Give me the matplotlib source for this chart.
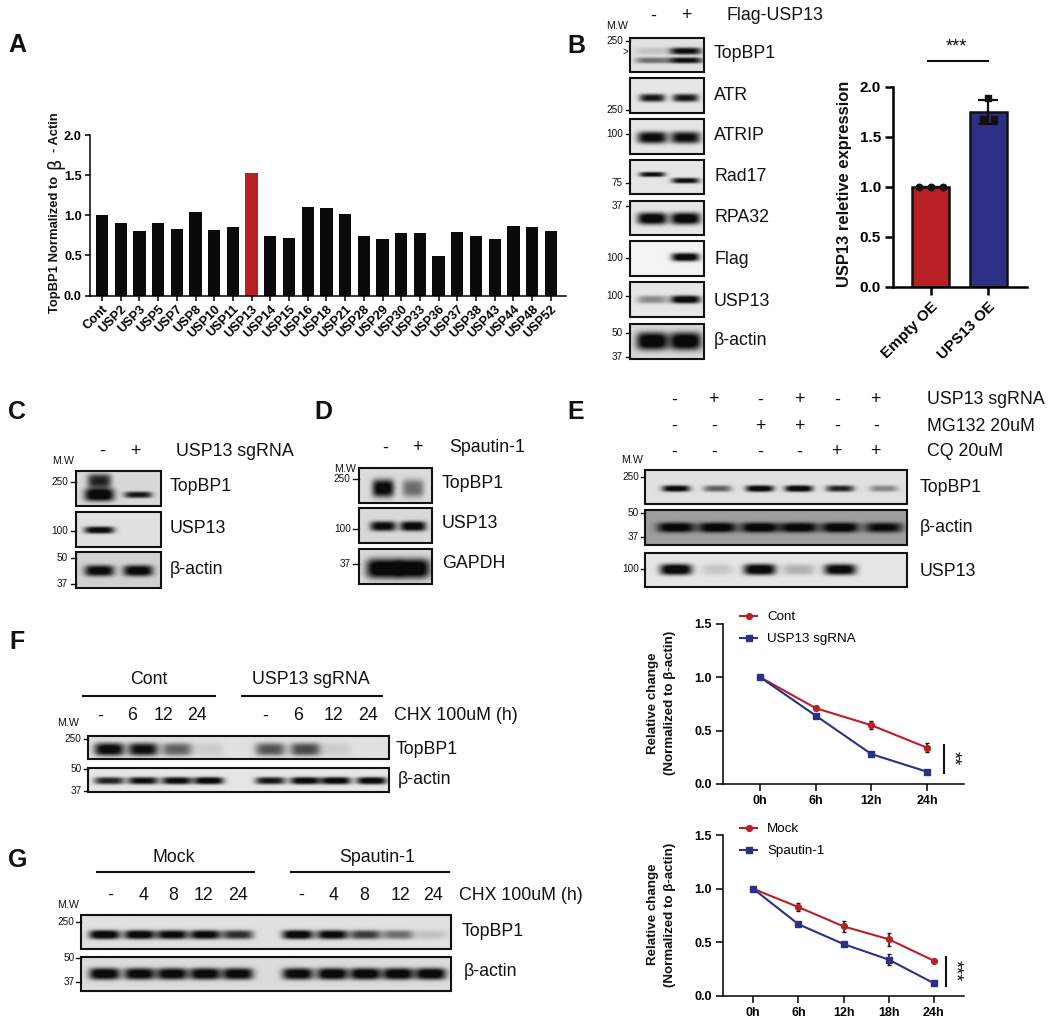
import numpy as np
import matplotlib
matplotlib.use('Agg')
import matplotlib.pyplot as plt
from matplotlib.lines import Line2D
from matplotlib.patches import Rectangle

W, H = 1050, 1025
BOLD = 'Liberation Sans'
SANS = 'Liberation Sans'
RED = '#B92025'
BLUE = '#2E3085'

# panel A
usp_names = ['Cont', 'USP2', 'USP3', 'USP5', 'USP7', 'USP8', 'USP10', 'USP11', 'USP13', 'USP14',
             'USP15', 'USP16', 'USP18', 'USP21', 'USP28', 'USP29', 'USP30', 'USP33', 'USP36',
             'USP37', 'USP38', 'USP43', 'USP44', 'USP48', 'USP52']
usp_values = [1.0, 0.9, 0.8, 0.9, 0.83, 1.04, 0.81, 0.85, 1.53, 0.74, 0.72, 1.1, 1.09, 1.01,
              0.74, 0.7, 0.78, 0.78, 0.49, 0.79, 0.74, 0.7, 0.87, 0.85, 0.8]

# panel B bars
oe_names = ['Empty OE', 'UPS13 OE']
oe_means = [1.0, 1.75]
oe_sd = [0.0, 0.12]
empty_points = [1.0, 1.0, 1.0]
ups13_points = [1.68, 1.89, 1.68]

# line charts
f_times = ['0h', '6h', '12h', '24h']
f_cont = [1.0, 0.71, 0.55, 0.34]
f_cont_err = [0.0, 0.01, 0.04, 0.04]
f_sg = [1.0, 0.64, 0.28, 0.115]
f_sg_err = [0.0, 0.01, 0.01, 0.01]
g_times = ['0h', '6h', '12h', '18h', '24h']
g_mock = [1.0, 0.83, 0.65, 0.53, 0.33]
g_mock_err = [0.0, 0.04, 0.05, 0.06, 0.01]
g_spa = [1.0, 0.67, 0.485, 0.34, 0.12]
g_spa_err = [0.0, 0.01, 0.01, 0.05, 0.02]

# blot band strengths, one number per lane
b_top_up = [0.12, 0.85]
b_top_low = [0.45, 0.85]
b_atr = [0.8, 0.8]
b_atrip = [0.88, 0.85]
b_rad_a = [0.85, 0.0]
b_rad_b = [0.0, 0.85]
b_rpa = [0.95, 0.95]
b_flag = [0.0, 0.95]
b_usp = [0.35, 0.95]
b_actin = [0.98, 0.98]
c_top_a = [0.98, 0.0]
c_top_smear = [0.75, 0.0]
c_top_b = [0.0, 0.8]
c_usp = [0.9, 0.0]
c_actin = [0.9, 0.92]
d_top = [0.9, 0.45]
d_usp = [0.88, 0.92]
d_gapdh = [0.98, 0.98]
e_top = [0.9, 0.5, 0.95, 0.97, 0.75, 0.35]
e_actin = [0.92, 0.95, 0.95, 0.92, 0.95, 0.85]
e_usp = [0.98, 0.12, 0.97, 0.2, 0.93, 0.0]
f_top = [0.9, 0.85, 0.5, 0.08, 0.55, 0.6, 0.08, 0.0]
f_actin = [0.75, 0.85, 0.88, 0.92, 0.8, 0.9, 0.92, 0.92]
g_top = [0.95, 0.93, 0.9, 0.9, 0.7, 0.95, 0.9, 0.65, 0.45, 0.12]
g_actin = [0.95, 0.92, 0.92, 0.93, 0.92, 0.92, 0.95, 0.95, 0.95, 0.95]

fig = plt.figure(figsize=(W / 100, H / 100), dpi=100)
over = fig.add_axes([0, 0, 1, 1], zorder=5)
over.set_xlim(0, W)
over.set_ylim(H, 0)
over.axis('off')
over.patch.set_alpha(0)


def axes_px(x0, y0, x1, y1):
    ax = fig.add_axes([x0 / W, 1 - y1 / H, (x1 - x0) / W, (y1 - y0) / H])
    ax.patch.set_alpha(0)
    ax.spines['top'].set_visible(False)
    ax.spines['right'].set_visible(False)
    return ax


def txt(x, y, s, size=12.8, ha='left', va='center', family=SANS, weight='normal', rot=0):
    over.text(x, y, s, fontsize=size, ha=ha, va=va, family=family, fontweight=weight,
              rotation=rot, rotation_mode='anchor', color='#111111')


def blot(x0, y0, x1, y1, lanes, rows, bg=0.9):
    nx, ny = int((x1 - x0) * 2), int((y1 - y0) * 2)
    xs = np.linspace(x0, x1, nx)
    ys = np.linspace(y0, y1, ny)
    gx, gy = np.meshgrid(xs, ys)
    dark = np.zeros_like(gx)
    for yf, h, w, strengths in rows:
        yc = y0 + yf * (y1 - y0)
        for lane, s in zip(lanes, strengths):
            dark += s * 1.15 * np.exp(-np.abs((gx - lane) / w) ** 4) * np.exp(-np.abs((gy - yc) / h) ** 3)
    img = bg * (1 - np.clip(dark, 0, 0.95))
    over.imshow(img, extent=(x0, x1, y1, y0), cmap='gray', vmin=0, vmax=1, aspect='auto',
                interpolation='bilinear', zorder=1)
    over.add_patch(Rectangle((x0, y0), x1 - x0, y1 - y0, fill=False, ec='#111111', lw=1.5, zorder=2))


def ladder(items, right, t0, t1, size=7.2):
    for lab, y in items:
        txt(right, y, lab, size=size, ha='right')
        over.plot([t0, t1], [y, y], color='#111111', lw=1, zorder=2)


def signs(xs, y, marks, size=12.8):
    for x, m in zip(xs, marks):
        txt(x, y, m, size=size, ha='center')


def hline(x0, x1, y, lw=1.5):
    over.plot([x0, x1], [y, y], color='#111111', lw=lw)


# panel letters
for s, x, y in [('A', 8, 45), ('B', 567, 46), ('C', 8, 412), ('D', 314, 412), ('E', 567, 412),
                ('F', 9, 642), ('G', 8, 860)]:
    txt(x, y, s, size=18, family=BOLD, weight='bold')

# A
ax = axes_px(89.5, 135, 566, 295.5)
xa = np.arange(len(usp_names))
bar_cols = [RED if n == 'USP13' else '#0A0A0A' for n in usp_names]
ax.bar(xa, usp_values, width=0.66, color=bar_cols)
ax.set_xlim((89.5 - 102) / 18.7, (566 - 102) / 18.7)
ax.set_ylim(0, 2)
ax.set_yticks([0, 0.5, 1, 1.5, 2])
ax.set_yticklabels(['0.0', '0.5', '1.0', '1.5', '2.0'], fontsize=9.2, fontweight='bold', family=BOLD)
ax.set_xticks(xa)
ax.set_xticklabels(usp_names, rotation=45, ha='right', rotation_mode='anchor', fontsize=9.2,
                   fontweight='bold', family=BOLD)
ax.tick_params(width=1.1, length=3.5, pad=2)
ax.tick_params(axis='x', pad=2)
for sp in ax.spines.values():
    sp.set_linewidth(1.1)
txt(55, 313, 'TopBP1 Normalized to', size=9.4, family=BOLD, weight='bold', rot=90, ha='left')
txt(55, 169, '\u03b2', size=13, family='DejaVu Sans', rot=90, ha='left')
txt(55, 152, '- Actin', size=9.4, family=BOLD, weight='bold', rot=90, ha='left')

# B blots
lanes_b = [652.5, 686]
bx0, bx1 = 630.3, 704.3
blot(bx0, 37.7, bx1, 72.3, lanes_b, [(0.4, 3.5, 16, b_top_up), (0.67, 3, 17, b_top_low)], bg=0.88)
blot(bx0, 78.3, bx1, 113.3, lanes_b, [(0.57, 4, 13, b_atr)])
blot(bx0, 119, bx1, 153.7, lanes_b, [(0.53, 6, 15, b_atrip)])
blot(bx0, 159.7, bx1, 194.3, lanes_b, [(0.44, 2.5, 13, b_rad_a), (0.62, 2.8, 14, b_rad_b)])
blot(bx0, 200.7, bx1, 235.3, lanes_b, [(0.53, 6, 15, b_rpa)])
blot(bx0, 241.3, bx1, 276.3, lanes_b, [(0.46, 4.2, 14, b_flag)], bg=0.95)
blot(bx0, 282.3, bx1, 317.3, lanes_b, [(0.5, 4, 15, b_usp)])
blot(bx0, 324, bx1, 359, lanes_b, [(0.49, 9, 16, b_actin)], bg=0.85)
ladder([('250', 41), ('250', 110), ('100', 134), ('75', 182.7), ('37', 206), ('100', 258),
        ('100', 296), ('50', 332.7), ('37', 357.3)], 623, 625.7, 630.3)
txt(625, 52, '>', size=7, ha='center')
txt(606, 26, 'M.W', size=7.7)
signs([652.7, 686], 16, ['-', '+'])
txt(726, 16, 'Flag-USP13')
for s, y in [('TopBP1', 54), ('ATR', 95), ('ATRIP', 136), ('Rad17', 176.7), ('RPA32', 217),
             ('Flag', 259), ('USP13', 301), ('\u03b2-actin', 340.7)]:
    txt(714, y, s)

# B bars
ax = axes_px(893.3, 86.7, 1026.7, 286.7)
xb = np.arange(len(oe_names))
ax.bar(xb, oe_means, width=37 / 57.7, color=[RED, BLUE], edgecolor='#111111', linewidth=1.8)
ax.errorbar(xb, oe_means, yerr=oe_sd, fmt='none', ecolor='#111111', elinewidth=1.6, capsize=7, capthick=1.6)
ax.scatter(xb[0] + np.array([-0.21, 0.0, 0.21]), empty_points, s=22, color='#111111', zorder=4)
ax.scatter(xb[1] + np.array([-0.1, 0.0, 0.1]), ups13_points, s=22, marker='s', color='#111111', zorder=4)
ax.set_xlim((893.3 - 930.7) / 57.7, (1026.7 - 930.7) / 57.7)
ax.set_ylim(0, 2)
ax.set_yticks([0, 0.5, 1, 1.5, 2])
ax.set_yticklabels(['0.0', '0.5', '1.0', '1.5', '2.0'], fontsize=11, fontweight='bold', family=BOLD)
ax.set_xticks(xb)
ax.set_xticklabels(oe_names, rotation=45, ha='right', rotation_mode='anchor', fontsize=11,
                   fontweight='bold', family=BOLD)
ax.tick_params(width=1.8, length=6, pad=3)
for sp in ax.spines.values():
    sp.set_linewidth(1.8)
txt(845, 184, 'USP13 reletive expression', size=11.9, family=BOLD, weight='bold', rot=90, ha='center')
txt(956, 47, '***', size=13, family=BOLD, ha='center')
hline(928, 988, 61)

# C
lanes_c = [99.3, 138.3]
blot(76, 470.7, 161, 506, lanes_c, [(0.69, 6.5, 15, c_top_a), (0.3, 7, 12, c_top_smear),
                                    (0.69, 3.2, 14, c_top_b)], bg=0.85)
blot(76, 512, 161, 547.3, lanes_c, [(0.53, 3.5, 15, c_usp)], bg=0.88)
blot(76, 552.3, 161, 587.7, lanes_c, [(0.52, 5.5, 15, c_actin)], bg=0.82)
ladder([('250', 481.7), ('100', 531), ('50', 558), ('37', 584)], 68, 71, 76)
txt(52, 461, 'M.W', size=7.7)
signs([101.7, 135], 451.7, ['-', '+'])
txt(175.7, 451.7, 'USP13 sgRNA')
for s, y in [('TopBP1', 486.7), ('USP13', 528.3), ('\u03b2-actin', 569)]:
    txt(170, y, s)

# D
lanes_d = [383.3, 413.3]
blot(359.3, 467.7, 432, 502.7, lanes_d, [(0.58, 9, 11, d_top)], bg=0.86)
blot(359.3, 508.3, 432, 543.3, lanes_d, [(0.52, 5, 13, d_usp)], bg=0.85)
blot(359.3, 548.7, 432, 583.7, lanes_d, [(0.56, 10, 17, d_gapdh)], bg=0.85)
ladder([('250', 479), ('100', 529), ('37', 564)], 350.7, 353, 359.3)
txt(334, 469, 'M.W', size=7.7)
signs([385, 417.7], 448, ['-', '+'])
txt(449, 448, 'Spautin-1')
for s, y in [('TopBP1', 483), ('USP13', 524), ('GAPDH', 564)]:
    txt(441.7, y, s)

# E
lanes_e = [675.6, 717.1, 759.5, 798.6, 840, 883.6]
ex0, ex1 = 644.7, 906.7
blot(ex0, 470, ex1, 504.3, lanes_e, [(0.56, 3.2, 14, e_top)], bg=0.88)
blot(ex0, 510.3, ex1, 544.7, lanes_e, [(0.5, 5, 19, e_actin)], bg=0.62)
blot(ex0, 552.7, ex1, 587.3, lanes_e, [(0.5, 5.5, 16, e_usp)], bg=0.9)
ladder([('250', 476.7), ('50', 512.7), ('37', 537), ('100', 569)], 639, 640.6, 644.7)
txt(621, 460, 'M.W', size=7.7)
sign_x = [674.6, 713.7, 760, 799.3, 836.7, 875.8]
signs(sign_x, 400, ['-', '+', '-', '+', '-', '+'])
signs(sign_x, 426.7, ['-', '-', '+', '+', '-', '-'])
signs(sign_x, 452, ['-', '-', '-', '-', '+', '+'])
for s, y in [('USP13 sgRNA', 400), ('MG132 20uM', 426.7), ('CQ 20uM', 452)]:
    txt(926.7, y, s)
for s, y in [('TopBP1', 487), ('\u03b2-actin', 527.7), ('USP13', 571.7)]:
    txt(919.3, y, s)

# F blots
lanes_f = [109.3, 143.1, 176.9, 208.7, 270.3, 305.2, 335.8, 371.6]
blot(88.2, 735.7, 388.7, 759.3, lanes_f, [(0.6, 6.5, 15, f_top)], bg=0.88)
blot(88.2, 768, 388.7, 791.7, lanes_f, [(0.53, 3.7, 15, f_actin)], bg=0.9)
ladder([('250', 739.3), ('50', 768.7), ('37', 791)], 81.5, 83.5, 88.2)
txt(57.6, 723, 'M.W', size=7.7)
txt(149, 680, 'Cont', ha='center')
hline(82.7, 214.6, 696)
txt(310.8, 680, 'USP13 sgRNA', ha='center')
hline(242.4, 381.6, 696)
signs([100.2, 132.4, 163.4, 197.5, 265.5, 298.1, 333.9, 368.4], 716,
      ['-', '6', '12', '24', '-', '6', '12', '24'])
txt(393.5, 716, 'CHX 100uM (h)')
txt(395.5, 749, 'TopBP1')
txt(397.5, 780, '\u03b2-actin')

# G blots
lanes_g = [104.1, 139.1, 171.7, 204.7, 237.3, 297.3, 331.9, 364.9, 397.5, 430]
blot(80.7, 915.3, 451.1, 949.3, lanes_g, [(0.58, 4.6, 15.5, g_top)], bg=0.88)
blot(80.7, 956.7, 451.1, 991, lanes_g, [(0.51, 5.8, 15.5, g_actin)], bg=0.86)
ladder([('250', 921.7), ('50', 957.7), ('37', 982)], 74.7, 76.3, 80.7)
txt(57.6, 905, 'M.W', size=7.7)
txt(174.1, 857, 'Mock', ha='center')
hline(97.4, 253.6, 872.3)
txt(376.8, 857, 'Spautin-1', ha='center')
hline(291.3, 449.1, 872.3)
signs([110.5, 143.1, 173.3, 203.9, 237.7, 300.9, 333.1, 363.7, 400.2, 433.2], 895,
      ['-', '4', '8', '12', '24', '-', '4', '8', '12', '24'])
txt(459, 895, 'CHX 100uM (h)')
txt(461.9, 931.7, 'TopBP1')
txt(463.8, 971.7, '\u03b2-actin')


def line_chart(box, first_x, step, times, s1, e1, s2, e2, names, leg_y):
    x0, y0, x1, y1 = box
    ax = axes_px(x0, y0, x1, y1)
    xs = np.arange(len(times))
    ax.errorbar(xs, s1, yerr=e1, color=RED, ecolor='#111111', lw=1.5, elinewidth=1.1, capsize=1.5,
                marker='o', ms=4.2, zorder=3)
    ax.errorbar(xs, s2, yerr=e2, color=BLUE, ecolor='#111111', lw=1.5, elinewidth=1.1, capsize=1.5,
                marker='s', ms=4, zorder=4)
    ax.set_xlim((x0 - first_x) / step, (x1 - first_x) / step)
    ax.set_ylim(0, 1.5)
    ax.set_yticks([0, 0.5, 1, 1.5])
    ax.set_yticklabels(['0.0', '0.5', '1.0', '1.5'], fontsize=9, fontweight='bold', family=BOLD)
    ax.set_xticks(xs)
    ax.set_xticklabels(times, fontsize=9, fontweight='bold', family=BOLD)
    ax.tick_params(width=1.1, length=5, pad=3)
    for sp in ax.spines.values():
        sp.set_linewidth(1.1)
    handles = [Line2D([], [], color=RED, lw=1.5, marker='o', ms=4.2),
               Line2D([], [], color=BLUE, lw=1.5, marker='s', ms=4)]
    ax.legend(handles, names, loc='upper left', bbox_to_anchor=(740 / W, 1 - leg_y / H),
              bbox_transform=fig.transFigure, frameon=False, borderpad=0, borderaxespad=0,
              handlelength=1.3, handletextpad=0.75, labelspacing=0.72,
              prop={'family': SANS, 'size': 9.6})
    yc = (y0 + y1) / 2 - 1
    txt(652.7, yc, 'Relative change', size=9.6, family=BOLD, weight='bold', rot=90, ha='center')
    txt(670, yc, '(Normalized to \u03b2-actin)', size=9.6, family=BOLD, weight='bold', rot=90, ha='center')


line_chart((723.3, 623.7, 964.3, 784), 760, 55.67, f_times, f_cont, f_cont_err, f_sg, f_sg_err,
           ['Cont', 'USP13 sgRNA'], 611)
over.plot([943.7, 943.7], [745, 773.3], color='#111111', lw=1.5)
txt(953, 758, '**', size=13, family=BOLD, rot=270, ha='center')

line_chart((723.3, 835.3, 964.3, 996), 753.3, 45.1, g_times, g_mock, g_mock_err, g_spa, g_spa_err,
           ['Mock', 'Spautin-1'], 823)
over.plot([946, 946], [957.3, 986], color='#111111', lw=1.5)
txt(955, 971, '***', size=13, family=BOLD, rot=270, ha='center')

over.set_xlim(0, W)
over.set_ylim(H, 0)
fig.savefig('out.png', dpi=100)
